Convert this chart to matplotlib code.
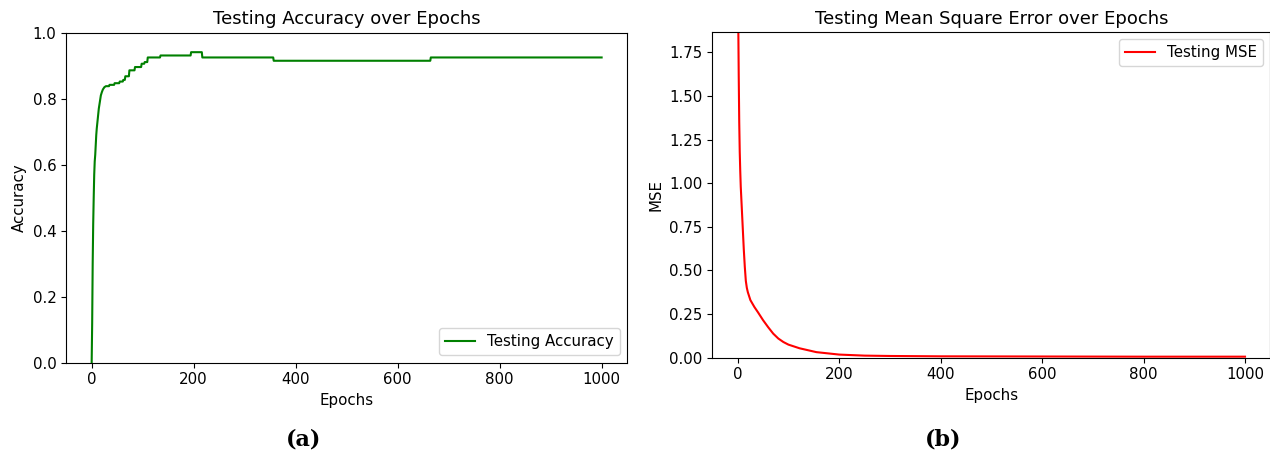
import matplotlib
matplotlib.use("Agg")
import matplotlib.pyplot as plt

plt.rcParams['font.size'] = 10.8

# accuracy (jumps are given as two neighbouring epochs)
acc_epochs = [0, 1, 2, 3, 4, 5, 6, 7, 8, 9, 10, 12, 14, 16, 18, 20, 22, 25, 28,
              34, 35, 44, 45, 54, 55, 61, 62, 65, 66, 73, 74, 84, 85, 97, 98, 103, 104,
              109, 110, 134, 135, 194, 195, 216, 217, 356, 357, 664, 665, 1000]
acc_values = [0.0, 0.12, 0.3, 0.42, 0.5, 0.57, 0.61, 0.63, 0.66, 0.69, 0.71, 0.74,
              0.77, 0.79, 0.81, 0.82, 0.828, 0.835, 0.838,
              0.838, 0.842, 0.842, 0.847, 0.847, 0.852, 0.852, 0.857, 0.857, 0.868,
              0.868, 0.886, 0.886, 0.896, 0.896, 0.906, 0.906, 0.911, 0.911, 0.925,
              0.925, 0.931, 0.931, 0.941, 0.941, 0.925, 0.925, 0.915, 0.915, 0.925, 0.925]

mse_epochs = [0, 1, 2, 3, 4, 5, 6, 8, 10, 12, 14, 16, 18, 20, 25, 33, 40, 50, 60,
              70, 80, 90, 100, 122, 155, 200, 250, 300, 400, 600, 800, 1000]
mse_values = [2.3, 1.95, 1.62, 1.35, 1.18, 1.07, 0.98, 0.86, 0.74, 0.62, 0.52, 0.44,
              0.40, 0.375, 0.33, 0.29, 0.26, 0.215, 0.175, 0.138, 0.11, 0.09, 0.075,
              0.054, 0.032, 0.018, 0.012, 0.010, 0.008, 0.007, 0.006, 0.006]

fig = plt.figure(figsize=(12.7, 4.55), dpi=100)
ax1 = fig.add_axes([0.0521, 0.2029, 0.4417, 0.7252])
ax2 = fig.add_axes([0.5609, 0.2138, 0.4394, 0.7159])

ax1.plot(acc_epochs, acc_values, color='green', label='Testing Accuracy')
ax1.set_ylim(0, 1)
ax1.set_xlim(-50, 1050)
ax1.set_title("Testing Accuracy over Epochs")
ax1.set_xlabel("Epochs")
ax1.set_ylabel("Accuracy")
ax1.legend(loc='lower right')

ax2.plot(mse_epochs, mse_values, color='red', label='Testing MSE')
ax2.set_ylim(0, 1.866)
ax2.set_xlim(-50, 1050)
ax2.set_title("Testing Mean Square Error over Epochs")
ax2.set_xlabel("Epochs")
ax2.set_ylabel("MSE")
ax2.legend(loc='upper right')

fig.text(0.239, 0.033, "(a)", fontsize=16, fontweight='bold', family='DejaVu Serif',
         ha='center', va='center')
fig.text(0.7425, 0.033, "(b)", fontsize=16, fontweight='bold', family='DejaVu Serif',
         ha='center', va='center')

fig.savefig("out.png", dpi=100)
